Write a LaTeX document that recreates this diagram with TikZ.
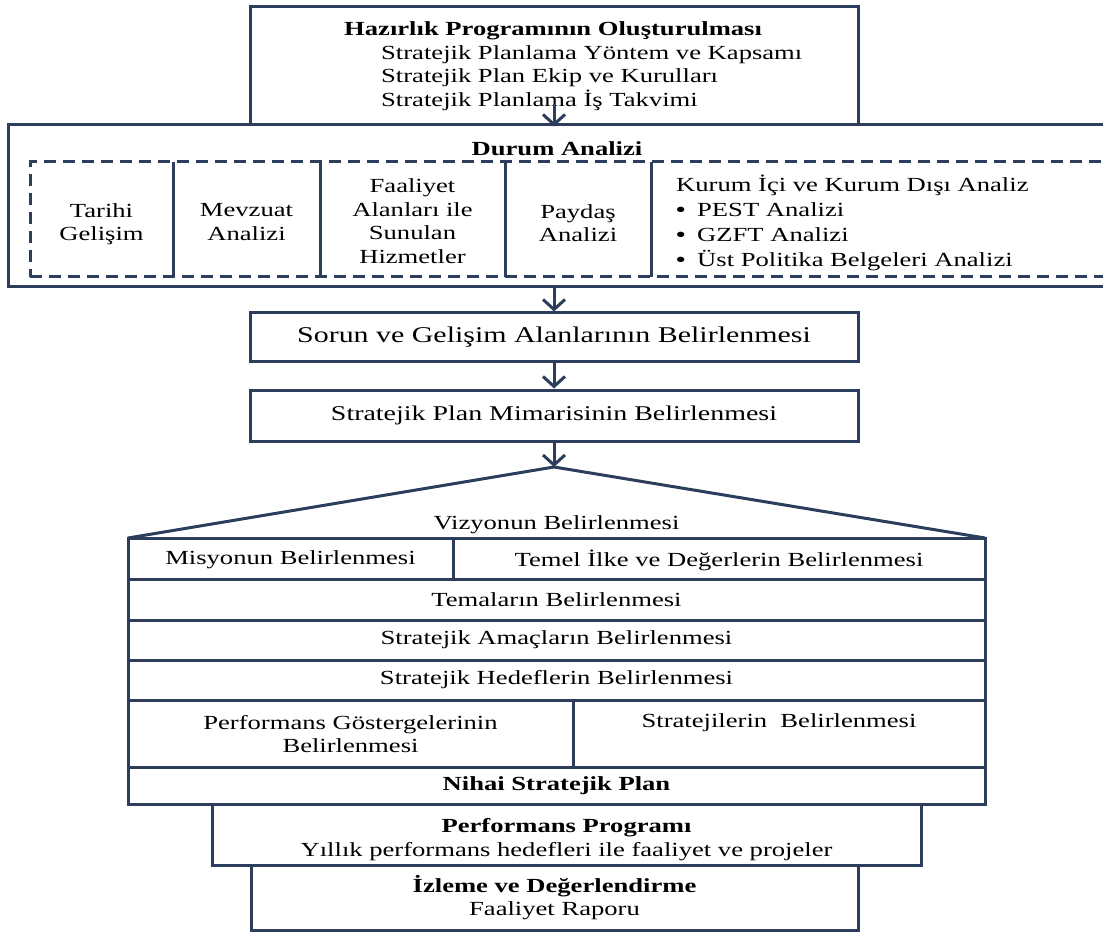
\documentclass[tikz,border=0pt]{standalone}
\usepackage{fontspec}
\setmainfont{Liberation Serif}[FakeStretch=1.33]
\usetikzlibrary{arrows.meta}
\definecolor{navy}{HTML}{2C3E5C}
\begin{document}
\begin{tikzpicture}[x=1pt,y=-1pt,
  frame/.style={draw=navy, line width=3pt, inner sep=0pt, font=\fontsize{20}{23.5}\selectfont, align=center},
  dashframe/.style={frame, dash pattern=on 12pt off 7pt},
  txt/.style={inner sep=0pt, font=\fontsize{20}{23.5}\selectfont, text=black, align=center},
  btxt/.style={txt, font=\fontsize{20}{23.5}\selectfont\bfseries},
  arr/.style={draw=navy, line width=3pt, -{Straight Barb[length=10pt,width=22pt]}},
  sep/.style={draw=navy, line width=3pt}]
\useasboundingbox (0,0) rectangle (1103,933);
\clip (0,0) rectangle (1103,933);

% top box
\node[frame, minimum width=608pt, minimum height=118pt] (top) at (554,66) {};
\node[btxt, anchor=base west] (t0) at (344,36) {Hazırlık Programının Oluşturulması};
\node[txt, anchor=base west] (t1) at (381,59.5) {Stratejik Planlama Yöntem ve Kapsamı};
\node[txt, anchor=base west] (t2) at (381,83) {Stratejik Plan Ekip ve Kurulları};
\node[txt, anchor=base west] (t3) at (381,106.5) {Stratejik Planlama İş Takvimi};
\coordinate (a0) at (554,104);

% durum analizi
\node[frame, minimum width=1110pt, minimum height=162pt] (durum) at (563,206) {};
\node[btxt] (dt) at (557,149) {Durum Analizi};
\node[dashframe, minimum width=1086pt, minimum height=115pt] (dbox) at (573,219.5) {};
\draw[sep] (173,162) -- (173,277);
\draw[sep] (320,162) -- (320,277);
\draw[sep] (505,162) -- (505,277);
\draw[sep] (651,162) -- (651,277);
\node[txt] (c1) at (101.5,224) {Tarihi\\Gelişim};
\node[txt] (c2) at (246.5,222) {Mevzuat\\Analizi};
\node[txt] (c3) at (412.5,221) {Faaliyet\\Alanları ile\\Sunulan\\Hizmetler};
\node[txt] (c4) at (578,223) {Paydaş\\Analizi};
\node[txt, align=left, anchor=west, font=\fontsize{20}{25}\selectfont] (c5) at (676,223)
  {Kurum İçi ve Kurum Dışı Analiz\\
   \makebox[21pt][l]{\textbf{•}}PEST Analizi\\
   \makebox[21pt][l]{\textbf{•}}GZFT Analizi\\
   \makebox[21pt][l]{\textbf{•}}Üst Politika Belgeleri Analizi};

% middle boxes
\node[frame, minimum width=608pt, minimum height=48pt, font=\fontsize{22.5}{26}\selectfont] (sorun) at (554,337) {Sorun ve Gelişim Alanlarının Belirlenmesi};
\node[frame, minimum width=608pt, minimum height=51pt, font=\fontsize{21}{24}\selectfont] (mim) at (554,415.5) {Stratejik Plan Mimarisinin Belirlenmesi};

% pyramid
\coordinate (apex) at (554,467);
\draw[sep, line join=miter] (128,538) -- (apex) -- (985,538);
\node[txt, anchor=base] (viz) at (556.5,529) {Vizyonun Belirlenmesi};
\node[frame, minimum width=857pt, minimum height=41pt] (r1) at (556.5,558.5) {};
\draw[sep] (453,538) -- (453,579);
\node[txt] (mis) at (290.5,560) {Misyonun Belirlenmesi};
\node[txt] (tem) at (719,560) {Temel İlke ve Değerlerin Belirlenmesi};
\node[frame, minimum width=857pt, minimum height=41pt] (r2) at (556.5,599.5) {Temaların Belirlenmesi};
\node[frame, minimum width=857pt, minimum height=40pt] (r3) at (556.5,640) {Stratejik Amaçların Belirlenmesi};
\node[frame, minimum width=857pt, minimum height=40pt] (r4) at (556.5,680) {Stratejik Hedeflerin Belirlenmesi};
\node[frame, minimum width=857pt, minimum height=67pt] (r5) at (556.5,733.5) {};
\draw[sep] (573,700) -- (573,767);
\node[txt] (pg) at (350.5,734) {Performans Göstergelerinin\\Belirlenmesi};
\node[txt] (sb) at (779,723) {Stratejilerin\ \ Belirlenmesi};
\node[frame, minimum width=857pt, minimum height=37pt, font=\fontsize{20}{23.5}\selectfont\bfseries] (r6) at (556.5,785.5) {Nihai Stratejik Plan};

% bottom boxes
\node[frame, minimum width=709pt, minimum height=61pt, fill=white] (perf) at (566.5,834.5) {};
\node[txt] (pt) at (566.5,839.5) {\textbf{Performans Programı}\\Yıllık performans hedefleri ile faaliyet ve projeler};
\node[frame, minimum width=607pt, minimum height=65pt, fill=white] (izl) at (554.5,897.5) {\textbf{İzleme ve Değerlendirme}\\Faaliyet Raporu};

% arrows
\draw[arr] (a0) -- (top.south);
\draw[arr] (durum.south -| sorun.north) -- (sorun.north);
\draw[arr] (sorun.south) -- (mim.north);
\draw[arr] (mim.south) -- (apex);
\end{tikzpicture}
\end{document}
